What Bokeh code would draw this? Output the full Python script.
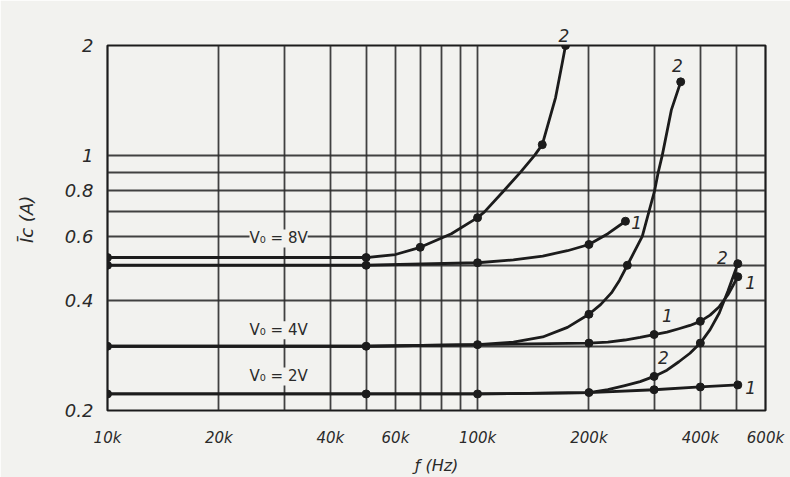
import math
from bokeh.plotting import figure
from bokeh.models import FixedTicker, CustomJSTickFormatter, Label, Title
from bokeh.embed import file_html
from bokeh.resources import INLINE

# ---- axes / grid ----
x_ticks = [10000, 20000, 40000, 60000, 100000, 200000, 400000, 600000]
y_ticks = [0.2, 0.4, 0.6, 0.8, 1, 2]
x_grid = [10000, 20000, 30000, 40000, 50000, 60000, 70000, 80000, 90000,
          100000, 200000, 300000, 400000, 500000, 600000]
y_grid = [0.2, 0.3, 0.4, 0.5, 0.6, 0.7, 0.8, 0.9, 1.0, 2.0]

# ---- V0 = 8V, curve 2 ----
v8c2_f_dots = [10e3, 50e3, 70e3, 100e3, 149.6e3, 172.9e3]
v8c2_i_dots = [0.525, 0.525, 0.56, 0.675, 1.07, 2.0]
v8c2_f = [10e3, 50e3, 60e3, 70e3, 85e3, 100e3, 104.4e3, 117.8e3, 130.7e3,
          142.6e3, 149.6e3, 162.5e3, 169.4e3, 172.9e3]
v8c2_i = [0.525, 0.525, 0.535, 0.56, 0.61, 0.675, 0.70, 0.80, 0.90,
          1.0, 1.07, 1.44, 1.79, 2.0]

# ---- V0 = 8V, curve 1 ----
v8c1_f_dots = [10e3, 50e3, 100e3, 200e3, 251e3]
v8c1_i_dots = [0.50, 0.50, 0.508, 0.57, 0.66]
v8c1_f = [10e3, 50e3, 100e3, 125e3, 150e3, 175e3, 200e3, 225e3, 251e3]
v8c1_i = [0.50, 0.50, 0.508, 0.517, 0.530, 0.548, 0.57, 0.61, 0.66]

# ---- V0 = 4V, curve 2 ----
v4c2_f_dots = [10e3, 50e3, 100e3, 200e3, 254e3, 354e3]
v4c2_i_dots = [0.30, 0.30, 0.303, 0.367, 0.50, 1.59]
v4c2_f = [10e3, 50e3, 100e3, 125e3, 150e3, 175e3, 200e3, 215e3, 230e3, 242e3,
          254e3, 278.7e3, 290.4e3, 300.9e3, 307.9e3, 315.6e3, 333.9e3, 354e3]
v4c2_i = [0.30, 0.30, 0.303, 0.308, 0.318, 0.338, 0.367, 0.39, 0.42, 0.455,
          0.50, 0.60, 0.70, 0.80, 0.90, 1.0, 1.33, 1.59]

# ---- V0 = 4V, curve 1 ----
v4c1_f_dots = [200e3, 300e3, 400e3, 505e3]
v4c1_i_dots = [0.306, 0.323, 0.351, 0.465]
v4c1_f = [10e3, 50e3, 100e3, 200e3, 225e3, 250e3, 275e3, 300e3, 325e3, 350e3,
          375e3, 400e3, 425e3, 450e3, 475e3, 505e3]
v4c1_i = [0.30, 0.30, 0.303, 0.306, 0.308, 0.312, 0.317, 0.323, 0.328, 0.335,
          0.342, 0.351, 0.365, 0.385, 0.415, 0.465]

# ---- V0 = 2V, curve 2 ----
v2c2_f_dots = [10e3, 50e3, 100e3, 200e3, 300e3, 400e3, 505e3]
v2c2_i_dots = [0.222, 0.222, 0.222, 0.224, 0.248, 0.306, 0.505]
v2c2_f = [10e3, 50e3, 100e3, 200e3, 225e3, 250e3, 275e3, 300e3, 325e3, 350e3,
          375e3, 400e3, 425e3, 450e3, 475e3, 505e3]
v2c2_i = [0.222, 0.222, 0.222, 0.224, 0.228, 0.234, 0.240, 0.248, 0.258, 0.272,
          0.287, 0.306, 0.333, 0.37, 0.425, 0.505]

# ---- V0 = 2V, curve 1 ----
v2c1_f_dots = [300e3, 400e3, 505e3]
v2c1_i_dots = [0.228, 0.232, 0.235]
v2c1_f = [10e3, 50e3, 100e3, 200e3, 300e3, 400e3, 505e3]
v2c1_i = [0.222, 0.222, 0.222, 0.224, 0.228, 0.232, 0.235]

PAPER = "#f2f2ef"
INK = "#1c1c1c"
GRID = "#2e2e2e"
TXT = "#2a2a2a"
FONT = "DejaVu Sans"

p = figure(width=790, height=477, x_axis_type="log", y_axis_type="log",
           x_range=(10000, 600000), y_range=(0.2, 2.0),
           output_backend="svg", toolbar_location=None,
           min_border_left=107, min_border_right=25,
           min_border_top=45, min_border_bottom=66)
p.background_fill_color = PAPER
p.border_fill_color = PAPER
p.outline_line_color = INK
p.outline_line_width = 2.2

p.xgrid.ticker = FixedTicker(ticks=x_grid)
p.ygrid.ticker = FixedTicker(ticks=y_grid)
for g in (p.xgrid, p.ygrid):
    g.grid_line_color = GRID
    g.grid_line_width = 1.8
    g.grid_line_alpha = 0.9

p.xaxis.ticker = FixedTicker(ticks=x_ticks)
p.yaxis.ticker = FixedTicker(ticks=y_ticks)
p.xaxis.formatter = CustomJSTickFormatter(code="return Math.round(tick/1000) + 'k';")
p.yaxis.formatter = CustomJSTickFormatter(code="return tick >= 1 ? tick.toFixed(0) : tick.toFixed(1);")
for ax in (p.xaxis, p.yaxis):
    ax.axis_line_color = None
    ax.major_tick_line_color = None
    ax.minor_tick_line_color = None
    ax.major_tick_out = 0
    ax.major_tick_in = 0
    ax.minor_tick_out = 0
    ax.minor_tick_in = 0
    ax.major_label_text_font = FONT
    ax.major_label_text_font_style = "italic"
    ax.major_label_text_color = TXT
    ax.axis_label_text_font = FONT
    ax.axis_label_text_font_style = "italic"
    ax.axis_label_text_color = TXT
p.xaxis.major_label_text_font_size = "15px"
p.yaxis.major_label_text_font_size = "18px"
p.xaxis.major_label_standoff = 18
p.yaxis.major_label_standoff = 14

p.xaxis.axis_label = "\u0192 (Hz)"
p.xaxis.axis_label_text_font_size = "16px"
p.xaxis.axis_label_standoff = 6
p.yaxis.axis_label = "\u00a0\u00a0\u00a0\u012ac (A)"
p.yaxis.axis_label_text_font_size = "18px"
p.yaxis.axis_label_standoff = 25

series = [
    (v8c2_f, v8c2_i, v8c2_f_dots, v8c2_i_dots),
    (v8c1_f, v8c1_i, v8c1_f_dots, v8c1_i_dots),
    (v4c2_f, v4c2_i, v4c2_f_dots, v4c2_i_dots),
    (v4c1_f, v4c1_i, v4c1_f_dots, v4c1_i_dots),
    (v2c2_f, v2c2_i, v2c2_f_dots, v2c2_i_dots),
    (v2c1_f, v2c1_i, v2c1_f_dots, v2c1_i_dots),
]
for fx, iy, fd, idots in series:
    p.line(fx, iy, line_color=INK, line_width=2.8, line_join="round")
    p.scatter(fd, idots, size=8, fill_color=INK, line_color=INK)

# V0 labels (interrupting the grid)
for txt, yv in (("V\u2080 = 8V", 0.592), ("V\u2080 = 4V", 0.332), ("V\u2080 = 2V", 0.248)):
    p.add_layout(Label(x=29000, y=yv, text=txt, text_align="center",
                       text_baseline="middle", text_font=FONT,
                       text_font_size="15px", text_color=TXT,
                       background_fill_color=PAPER, background_fill_alpha=1.0))

# curve numbers inside the frame
curve_labels = [
    ("2", 347e3, 1.765), ("1", 269e3, 0.655),
    ("2", 459e3, 0.525), ("1", 547e3, 0.449), ("1", 326e3, 0.364),
    ("2", 318e3, 0.280), ("1", 547e3, 0.231),
]
for txt, xv, yv in curve_labels:
    p.add_layout(Label(x=xv, y=yv, text=txt, text_align="center",
                       text_baseline="middle", text_font=FONT,
                       text_font_style="italic", text_font_size="17px",
                       text_color=TXT))

# curve number above the frame (top of the V0=8V curve 2)
p.add_layout(Title(text="2", align="left", offset=451, standoff=8,
                   text_font=FONT, text_font_style="italic",
                   text_font_size="17px", text_color=TXT), "above")

open("out.html", "w").write(file_html(p, INLINE))
